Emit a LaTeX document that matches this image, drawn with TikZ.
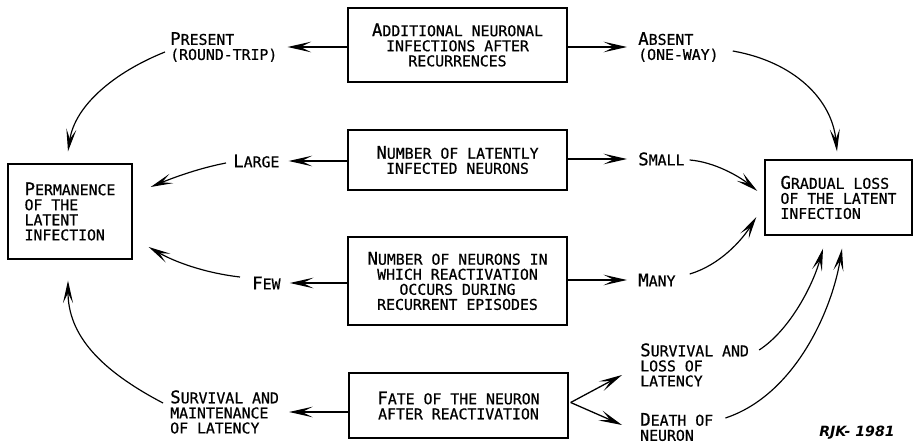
\documentclass[tikz,border=0pt]{standalone}
\usepackage{fontspec}
\setmainfont{DejaVu Sans Mono}[FakeBold=0.7]
\newfontfamily\sigfont{DejaVu Sans}
\usetikzlibrary{arrows.meta}
\newcommand\labfont{\fontsize{12.6}{12.8}\selectfont}
\newcommand\I[1]{{\fontsize{14.8}{12.8}\selectfont #1}}
\begin{document}
\begin{tikzpicture}[x=0.85pt,y=-0.85pt,
  box/.style={draw, line width=1.1pt, align=center, inner sep=0pt, font=\labfont},
  lbl/.style={anchor=west, align=left, inner sep=0pt, font=\labfont},
  arr/.style={line width=1.1pt, -{Stealth[length=20pt,width=9pt,inset=9pt]}},
  carr/.style={line width=1pt, -{Stealth[length=19pt,width=8.5pt,inset=8.5pt]}}]
\useasboundingbox (0,0) rectangle (913,444);
\clip (0,0) rectangle (913,444);
% boxes
\node[box, minimum width=186.2pt, minimum height=62.9pt] (b1) at (457.5,45)
  {\I{A}DDITIONAL NEURONAL\\INFECTIONS AFTER\\RECURRENCES};
\node[box, minimum width=186.2pt, minimum height=51pt] (b2) at (457.5,160)
  {\I{N}UMBER OF LATENTLY\\INFECTED NEURONS};
\node[box, minimum width=186.2pt, minimum height=74.8pt] (b3) at (457.5,281)
  {\I{N}UMBER OF NEURONS IN\\WHICH REACTIVATION\\OCCURS DURING\\RECURRENT EPISODES};
\node[box, minimum width=186.2pt, minimum height=55.3pt] (b4) at (458.5,405.5)
  {\I{F}ATE OF THE NEURON\\AFTER REACTIVATION};
\node[box, align=left, minimum width=105.4pt, minimum height=80.75pt] (perm) at (70,211.5)
  {\I{P}ERMANENCE\\OF THE\\LATENT\\INFECTION};
\node[box, align=left, minimum width=125pt, minimum height=63.75pt] (grad) at (838.5,197.5)
  {\I{G}RADUAL LOSS\\OF THE LATENT\\INFECTION};
% labels
\node[lbl] (present) at (170,47) {\I{P}RESENT\\(ROUND-TRIP)};
\node[lbl] (absent) at (638,47) {\I{A}BSENT\\(ONE-WAY)};
\node[lbl] (large) at (233,161) {\I{L}ARGE};
\node[lbl] (small) at (638,159) {\I{S}MALL};
\node[lbl] (few) at (252,283) {\I{F}EW};
\node[lbl] (many) at (638,280) {\I{M}ANY};
\node[lbl] (survm) at (170,412) {\I{S}URVIVAL AND\\MAINTENANCE\\OF LATENCY};
\node[lbl] (survl) at (640,365) {\I{S}URVIVAL AND\\LOSS OF\\LATENCY};
\node[lbl] (death) at (640,427) {\I{D}EATH OF\\NEURON};
\node[inner sep=0pt, font=\sigfont\bfseries\itshape\fontsize{12}{12}\selectfont] (sig) at (857,433) {RJK- 1981};
% straight arrows
\draw[arr] (b1.west |- present.east) -- ([shift={(10,0)}]present.east);
\draw[arr] (b1.east |- absent.west) -- ([shift={(-11,0)}]absent.west);
\draw[arr] (b2.west |- large.east) -- ([shift={(9,0)}]large.east);
\draw[arr] (b2.east |- small.west) -- ([shift={(-11,0)}]small.west);
\draw[arr] (b3.west |- few.east) -- ([shift={(9,0)}]few.east);
\draw[arr] (b3.east |- many.west) -- ([shift={(-11,0)}]many.west);
\draw[arr] (b4.west |- survm.east) -- ([shift={(10,0)}]survm.east);
\draw[arr] ([shift={(2,-3)}]b4.east) -- ([shift={(-18,10)}]survl.west);
\draw[arr] ([shift={(2,-3)}]b4.east) -- ([shift={(-18,-2)}]death.west);
% curved arrows
\draw[carr] ([shift={(-5,5)}]present.west) .. controls (115,72) and (75,105) .. ([shift={(-2,-12)}]perm.north);
\draw[carr] ([shift={(14,4)}]absent.east) .. controls (795,62) and (832,100) .. ([shift={(-1.5,-8)}]grad.north);
\draw[carr] ([shift={(-7,2)}]large.west) .. controls (200,168) and (175,177) .. ([shift={(18,-24.5)}]perm.east);
\draw[carr] ([shift={(5,1)}]small.east) .. controls (715,162) and (740,177) .. ([shift={(-7,-6.5)}]grad.west);
\draw[carr] ([shift={(-12,-6)}]few.west) .. controls (205,273) and (175,262) .. ([shift={(16,35.5)}]perm.east);
\draw[carr] ([shift={(14,-6)}]many.east) .. controls (720,265) and (742,240) .. ([shift={(-8,19.5)}]grad.west);
\draw[carr] ([shift={(-7,-9)}]survm.west) .. controls (100,370) and (68,335) .. ([shift={(-2,21)}]perm.south);
\draw[carr] ([shift={(10,-15)}]survl.east) .. controls (790,330) and (813,285) .. ([shift={(-15.5,13)}]grad.south);
\draw[carr] ([shift={(12,-9)}]death.east) .. controls (795,395) and (832,310) .. ([shift={(3.5,13)}]grad.south);
\end{tikzpicture}
\end{document}
